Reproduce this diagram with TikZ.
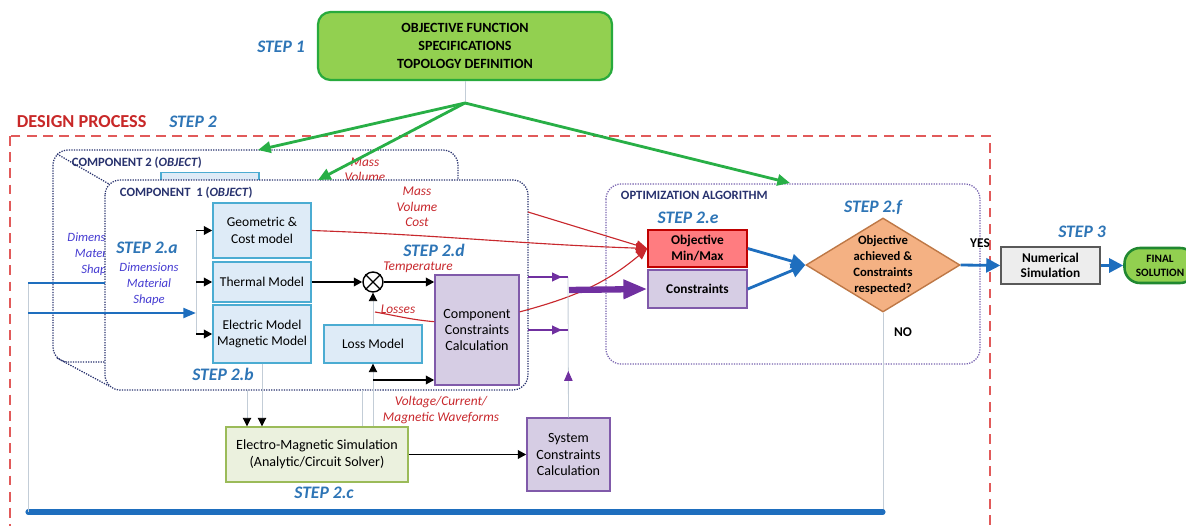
\documentclass[tikz,border=0pt]{standalone}
\usepackage{fontspec}
\setmainfont{Carlito}
\usetikzlibrary{arrows.meta,shapes.geometric,decorations.markings}

\definecolor{stepblue}{RGB}{46,117,182}
\definecolor{flowblue}{RGB}{30,110,190}
\definecolor{inblue}{RGB}{70,60,210}
\definecolor{titlered}{RGB}{200,40,40}
\definecolor{framered}{RGB}{225,90,90}
\definecolor{labred}{RGB}{200,40,45}
\definecolor{navy}{RGB}{40,50,110}
\definecolor{optpurple}{RGB}{120,100,175}
\definecolor{modfill}{RGB}{222,235,247}
\definecolor{moddraw}{RGB}{75,172,210}
\definecolor{cfill}{RGB}{214,205,228}
\definecolor{cdraw}{RGB}{128,90,170}
\definecolor{purp}{RGB}{112,48,160}
\definecolor{objfill}{RGB}{255,124,128}
\definecolor{objdraw}{RGB}{192,0,0}
\definecolor{topfill}{RGB}{146,208,80}
\definecolor{topdraw}{RGB}{40,170,60}
\definecolor{simfill}{RGB}{235,241,222}
\definecolor{simdraw}{RGB}{155,187,89}
\definecolor{decfill}{RGB}{244,177,131}
\definecolor{decdraw}{RGB}{190,120,70}
\definecolor{numfill}{RGB}{237,237,237}
\definecolor{numdraw}{RGB}{89,89,89}
\definecolor{wire}{RGB}{195,205,215}
\definecolor{arrgreen}{RGB}{40,175,70}

\begin{document}
\begin{tikzpicture}[x=0.025cm, y=-0.025cm,
    every node/.style={align=center},
    steplbl/.style={text=stepblue, font=\fontsize{12.5}{14}\selectfont\bfseries\itshape},
    redlbl/.style={text=labred, font=\fontsize{9.5}{11}\selectfont\itshape},
    inlbl/.style={text=inblue, font=\fontsize{9}{11.4}\selectfont\itshape},
    boldlbl/.style={font=\fontsize{9.5}{11}\selectfont\bfseries},
    complbl/.style={text=navy, anchor=west, font=\fontsize{9}{10}\selectfont\bfseries},
    compline/.style={draw=navy, line width=0.9pt, dash pattern=on 0.9pt off 0.9pt, rounded corners=0.38cm},
    optline/.style={draw=optpurple, line width=0.9pt, dash pattern=on 0.9pt off 0.9pt, rounded corners=0.38cm},
    topbox/.style={draw=topdraw, fill=topfill, line width=1.6pt, rounded corners=9pt, minimum width=7.35cm, minimum height=1.7cm, font=\fontsize{10}{13}\selectfont\bfseries},
    modbox/.style={draw=moddraw, fill=modfill, line width=1pt, minimum width=2.45cm, inner xsep=2pt, font=\fontsize{9.6}{12}\selectfont},
    cbox/.style={draw=cdraw, fill=cfill, line width=1pt, font=\fontsize{10}{11.5}\selectfont},
    simbox/.style={draw=simdraw, fill=simfill, line width=1pt, minimum width=4.55cm, minimum height=1.375cm, font=\fontsize{10}{12}\selectfont},
    objbox/.style={draw=objdraw, fill=objfill, line width=1pt, minimum width=2.475cm, minimum height=0.925cm, font=\fontsize{9.5}{11.5}\selectfont\bfseries},
    conbox/.style={draw=cdraw, fill=cfill, line width=1pt, minimum width=2.475cm, minimum height=0.95cm, font=\fontsize{9.5}{11.5}\selectfont\bfseries},
    decision/.style={diamond, draw=decdraw, fill=decfill, line width=1pt, aspect=1.64, minimum width=3.85cm, minimum height=2.35cm, inner sep=-3pt, font=\fontsize{9}{11.2}\selectfont\bfseries},
    numbox/.style={draw=numdraw, fill=numfill, line width=1pt, minimum width=2.475cm, minimum height=0.925cm, font=\fontsize{9.5}{11}\selectfont\bfseries},
    finbox/.style={draw=topdraw!80!black, fill=topfill, line width=1.8pt, rounded corners=11pt, minimum width=1.775cm, minimum height=0.875cm, font=\fontsize{8}{10}\selectfont\bfseries},
    wireline/.style={draw=wire, line width=0.6pt},
    blacktip/.style={-{Triangle[length=6pt,width=6pt,color=black]}},
    blackarrow/.style={draw=black, line width=1.4pt, -{Triangle[length=6pt,width=6pt]}},
    greenarrow/.style={draw=arrgreen, line width=2pt, -{Triangle[length=9pt,width=8pt]}},
    redarrow/.style={draw=labred, line width=0.8pt, -{Triangle[length=8pt,width=7pt]}},
    bluearrow/.style={draw=flowblue, line width=2pt, -{Triangle[length=10pt,width=10pt]}},
    blueline/.style={draw=flowblue, line width=1.8pt},
    purpline/.style={draw=purp, line width=1.6pt},
    midarrow/.style={postaction={decorate}, decoration={markings, mark=at position #1 with {\arrow[purp]{Triangle[length=7pt,width=6pt]}}}}]
  \useasboundingbox (0,0) rectangle (1186,526);
  \clip (0,0) rectangle (1186,526);

  \node[topbox] (spec) at (465,46) {OBJECTIVE FUNCTION\\SPECIFICATIONS\\TOPOLOGY DEFINITION};
  \node[steplbl] (s1) at (281,47) {STEP 1};
  \coordinate (fork) at (465,103);
  \coordinate (c2in) at (258,150);
  \coordinate (c1in) at (318,180);
  \coordinate (optin) at (790,183);

  \draw[draw=framered, line width=1pt, dash pattern=on 7pt off 4.5pt] (10,136) rectangle (990,560);
  \node[text=titlered, anchor=west, font=\fontsize{13}{15}\selectfont\bfseries] (dp) at (12,122) {DESIGN PROCESS};
  \node[steplbl] (s2) at (193,122) {STEP 2};

  % component 2, mostly hidden
  \draw[compline, fill=white] (53,150) rectangle (458,362);
  \node[complbl] (c2lbl) at (67,163) {COMPONENT 2 (\textit{OBJECT})};
  \node[modbox, minimum height=1.375cm] (geo2) at (210,200) {};
  \node[redlbl] (mv2) at (365,170) {Mass\\Volume};
  \node[inlbl] (dim2) at (97,254) {Dimensions\\Material\\Shape};
  \draw[compline] (57,154) -- (109,184) (57,358) -- (109,386);

  % component 1
  \draw[compline, fill=white] (105,180) rectangle (528,390);
  \node[complbl] (c1lbl) at (115,193) {COMPONENT\ \ 1 (\textit{OBJECT})};
  \node[modbox, minimum height=1.375cm] (geo) at (262,230.5) {Geometric \&\\Cost model};
  \node[modbox, minimum height=1cm] (therm) at (262,282) {Thermal Model};
  \node[modbox, minimum height=1.45cm] (elec) at (262,334) {Electric Model\\Magnetic Model};
  \node[modbox, minimum height=0.95cm] (loss) at (373,344) {Loss Model};
  \node[circle, draw, line width=1pt, minimum size=0.5cm, inner sep=0pt] (mult) at (373,282) {};
  \draw[line width=1pt] (mult.north west) -- (mult.south east) (mult.north east) -- (mult.south west);
  \node[cbox, minimum width=2.1cm, minimum height=2.75cm] (ccalc) at (477,330) {Component\\Constraints\\Calculation};
  \node[steplbl] (s2a) at (147,248) {STEP 2.a};
  \node[inlbl] (dim) at (149,284) {Dimensions\\Material\\Shape};
  \node[steplbl] (s2b) at (223,374) {STEP 2.b};
  \node[steplbl] (s2d) at (434,250) {STEP 2.d};
  \node[redlbl] (mvc) at (417,207) {Mass\\Volume\\Cost};
  \node[redlbl] (temp) at (418,267) {Temperature};
  \node[redlbl] (loslbl) at (398,309) {Losses};

  % simulation
  \node[simbox] (sim) at (317,454.5) {Electro-Magnetic Simulation\\(Analytic/Circuit Solver)};
  \node[steplbl] (s2c) at (324,493) {STEP 2.c};
  \node[cbox, minimum width=2.075cm, minimum height=1.825cm] (sysc) at (568.5,454.5) {System\\Constraints\\Calculation};
  \node[redlbl] (wave) at (441,410) {Voltage/Current/\\Magnetic Waveforms};

  % optimization
  \draw[optline] (606,184) rectangle (980,364);
  \node[text=navy, anchor=west, font=\fontsize{9}{10}\selectfont\bfseries] (optlbl) at (616,195) {OPTIMIZATION ALGORITHM};
  \node[steplbl] (s2e) at (688,218) {STEP 2.e};
  \node[objbox] (objmm) at (697.5,248.5) {Objective\\Min/Max};
  \node[conbox] (cons) at (697.5,289) {Constraints};
  \node[steplbl] (s2f) at (873,207) {STEP 2.f};
  \node[decision] (dec) at (883,265) {Objective\\achieved \&\\Constraints\\respected?};
  \node[boldlbl] (no) at (903,332) {NO};
  \node[boldlbl] (yes) at (980,243) {YES};
  \node[steplbl] (s3) at (1082,232) {STEP 3};
  \node[numbox] (num) at (1050.5,265.5) {Numerical\\Simulation};
  \node[finbox] (fin) at (1160,265.5) {FINAL\\SOLUTION};

  \draw[wireline] (spec.south) -- (fork);
  \foreach \t in {c2in,c1in,optin}
    \draw[greenarrow] (fork) -- (\t);

  % inputs and feedback loop
  \coordinate (busin) at (196,313);
  \coordinate (loopl) at (28,512);
  \coordinate (in2) at (28,283);
  \coordinate (in1) at (28,313);
  \coordinate (c2feed) at (105,283);
  \draw[wireline] (busin |- geo.west) -- (busin |- elec.west);
  \foreach \b in {geo,therm,elec}
    \draw[blackarrow] (busin |- \b.west) -- (\b.west);
  \draw[wireline] (dec.south) -- (dec.south |- loopl);
  \draw[draw=flowblue, line width=3.6pt, line cap=round] (dec.south |- loopl) -- (loopl);
  \draw[wireline] (loopl) -- (in2);
  \draw[blueline] (in2) -- (c2feed);
  \draw[blueline, -{Triangle[length=9pt,width=7pt]}] (in1) -- (busin);

  \draw[blackarrow] (therm.east) -- (mult.west);
  \draw[blackarrow] (mult.east) -- (mult.east -| ccalc.west);
  \draw[wireline, blacktip] (loss.north) -- (mult.south);
  \draw[wireline, blacktip] (loss.south |- sim.north) -- (loss.south);
  \coordinate (lbr) at (373,380);
  \draw[blackarrow] (lbr) -- (lbr -| ccalc.west);
  \coordinate (c1b1) at (247,390);
  \coordinate (c1b2) at (362,390);
  \draw[wireline, blacktip] (c1b1) -- (c1b1 |- sim.north);
  \draw[wireline, blacktip] (elec.south) -- (elec.south |- sim.north);
  \draw[wireline] (c1b2) -- (c1b2 |- sim.north);
  \draw[blackarrow] (sim.east) -- (sysc.west);

  % red flows
  \coordinate (c2out) at (528,212);
  \coordinate (lossst) at (375,312);
  \draw[redarrow] (geo.east) to[out=-2,in=178] (objmm.west);
  \draw[redarrow] (c2out) -- (objmm.west);
  \draw[redarrow] (ccalc.23) to[out=15,in=220] (objmm.west);
  \draw[draw=labred, line width=0.8pt] (lossst) to[out=-10,in=175] (ccalc.169);

  % constraints bus
  \coordinate (bus1) at (568,277);
  \coordinate (bus2) at (568,330);
  \coordinate (cc1) at (528,277);
  \coordinate (cc2) at (528,330);
  \coordinate (busmid) at (569,290);
  \draw[wireline, midarrow=0.33] (sysc.north) -- (bus1);
  \draw[purpline, midarrow=0.85] (cc1) -- (bus1);
  \draw[purpline, midarrow=0.85] (cc2) -- (bus2);
  \draw[draw=purp, line width=4.5pt, -{Triangle[length=17pt,width=13pt]}] (busmid) -- (cons.west);

  \draw[bluearrow] (objmm.east) -- (dec.west);
  \draw[bluearrow] (cons.east) -- (dec.west);
  \draw[bluearrow] (dec.east) -- (num.west);
  \draw[bluearrow] (num.east) -- (fin.west);
\end{tikzpicture}
\end{document}
